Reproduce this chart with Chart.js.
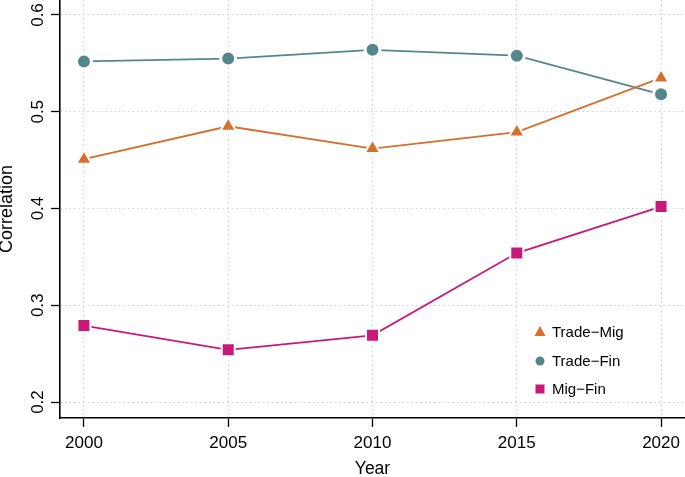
<!DOCTYPE html>
<html>
<head>
<meta charset="utf-8">
<script src="https://cdn.jsdelivr.net/npm/chart.js@4.4.0/dist/chart.umd.min.js"></script>
<style>
  html, body { margin: 0; padding: 0; background: #fff; }
  #grafico { display: block; }
</style>
</head>
<body>
<canvas id="grafico" width="685" height="477"></canvas>
<script>
const anos = [2000, 2005, 2010, 2015, 2020];
const tradeMig = [0.451, 0.485, 0.462, 0.479, 0.535];
const tradeFin = [0.552, 0.555, 0.564, 0.558, 0.518];
const migFin = [0.279, 0.254, 0.269, 0.354, 0.402];
const yTicks = [0.2, 0.3, 0.4, 0.5, 0.6];
const xTicks = [2000, 2005, 2010, 2015, 2020];

const fonte = '"Liberation Sans", Arial, Helvetica, sans-serif';

function pontos(valores) {
  return anos.map((a, i) => ({ x: a, y: valores[i] }));
}

const series = [
  { label: 'Trade\u2212Mig', data: tradeMig, cor: '#d4702c', estilo: 'triangle', raio: 9, borda: 2 },
  { label: 'Trade\u2212Fin', data: tradeFin, cor: '#54878d', estilo: 'circle', raio: 7.5, borda: 3 },
  { label: 'Mig\u2212Fin', data: migFin, cor: '#c8197a', estilo: 'rect', raio: 9.2, borda: 2 }
];

// y tick labels rotated + legend inside the plot
const extras = {
  id: 'extras',
  afterDraw(chart) {
    const ctx = chart.ctx;
    const y = chart.scales.y;
    ctx.save();
    ctx.fillStyle = '#000';
    ctx.font = '17px ' + fonte;
    ctx.textAlign = 'center';
    ctx.textBaseline = 'alphabetic';
    yTicks.forEach(v => {
      const py = y.getPixelForValue(v);
      ctx.save();
      ctx.translate(43, py);
      ctx.rotate(-Math.PI / 2);
      ctx.fillText(v.toFixed(1), 0, 0);
      ctx.restore();
    });

    // legenda
    const linhas = [332, 361, 389];
    ctx.font = '15px ' + fonte;
    ctx.textAlign = 'left';
    ctx.textBaseline = 'middle';
    series.forEach((s, i) => {
      const cx = 540, cy = linhas[i];
      ctx.fillStyle = s.cor;
      ctx.beginPath();
      if (s.estilo === 'triangle') {
        ctx.moveTo(cx, cy - 6);
        ctx.lineTo(cx + 5.5, cy + 4);
        ctx.lineTo(cx - 5.5, cy + 4);
        ctx.closePath();
      } else if (s.estilo === 'circle') {
        ctx.arc(cx, cy, 4.5, 0, Math.PI * 2);
      } else {
        ctx.rect(cx - 4.5, cy - 4.5, 9, 9);
      }
      ctx.fill();
      ctx.fillStyle = '#000';
      ctx.fillText(s.label, 552, cy + 1);
    });
    ctx.restore();
  }
};

const ctx = document.getElementById('grafico').getContext('2d');
const grafico = new Chart(ctx, {
  type: 'line',
  data: {
    datasets: series.map(s => ({
      label: s.label,
      data: pontos(s.data),
      borderColor: s.cor,
      borderWidth: 1.8,
      backgroundColor: s.cor,
      pointStyle: s.estilo,
      pointRadius: s.raio,
      pointBackgroundColor: s.cor,
      pointBorderColor: '#fff',
      pointBorderWidth: s.borda,
      tension: 0
    }))
  },
  options: {
    responsive: false,
    animation: false,
    layout: { padding: 0, autoPadding: false },
    plugins: {
      legend: { display: false },
      tooltip: { enabled: false }
    },
    scales: {
      x: {
        type: 'linear',
        min: 1999.17,
        max: 2020.83,
        afterBuildTicks: s => { s.ticks = xTicks.map(v => ({ value: v })); },
        afterFit: s => {
          s.height = 59;
          s.paddingLeft = 0;
          s.paddingRight = 0;
        },
        ticks: {
          color: '#000',
          padding: 6,
          font: { family: fonte, size: 17 },
          callback: v => String(v)
        },
        grid: {
          color: '#cccccc',
          lineWidth: 1,
          tickColor: '#000',
          tickLength: 9,
          tickWidth: 1.3
        },
        border: { display: true, color: '#000', width: 1.6, dash: [1.5, 3] },
        title: {
          display: true,
          text: 'Year',
          color: '#000',
          font: { family: fonte, size: 17.5, lineHeight: 1 },
          padding: { top: 0, bottom: -1 }
        }
      },
      y: {
        min: 0.1835,
        max: 0.6155,
        afterBuildTicks: s => { s.ticks = yTicks.map(v => ({ value: v })); },
        afterFit: s => {
          s.width = 60;
          s.paddingTop = 0;
          s.paddingBottom = 0;
        },
        ticks: { display: false },
        grid: {
          color: '#cccccc',
          lineWidth: 1,
          tickColor: '#000',
          tickLength: 9,
          tickWidth: 1.3
        },
        border: { display: true, color: '#000', width: 1.6, dash: [1.5, 3] },
        title: {
          display: true,
          text: 'Correlation',
          color: '#000',
          font: { family: fonte, size: 18, lineHeight: 1 },
          padding: { top: -2, bottom: 0 }
        }
      }
    }
  },
  plugins: [extras]
});
</script>
</body>
</html>
